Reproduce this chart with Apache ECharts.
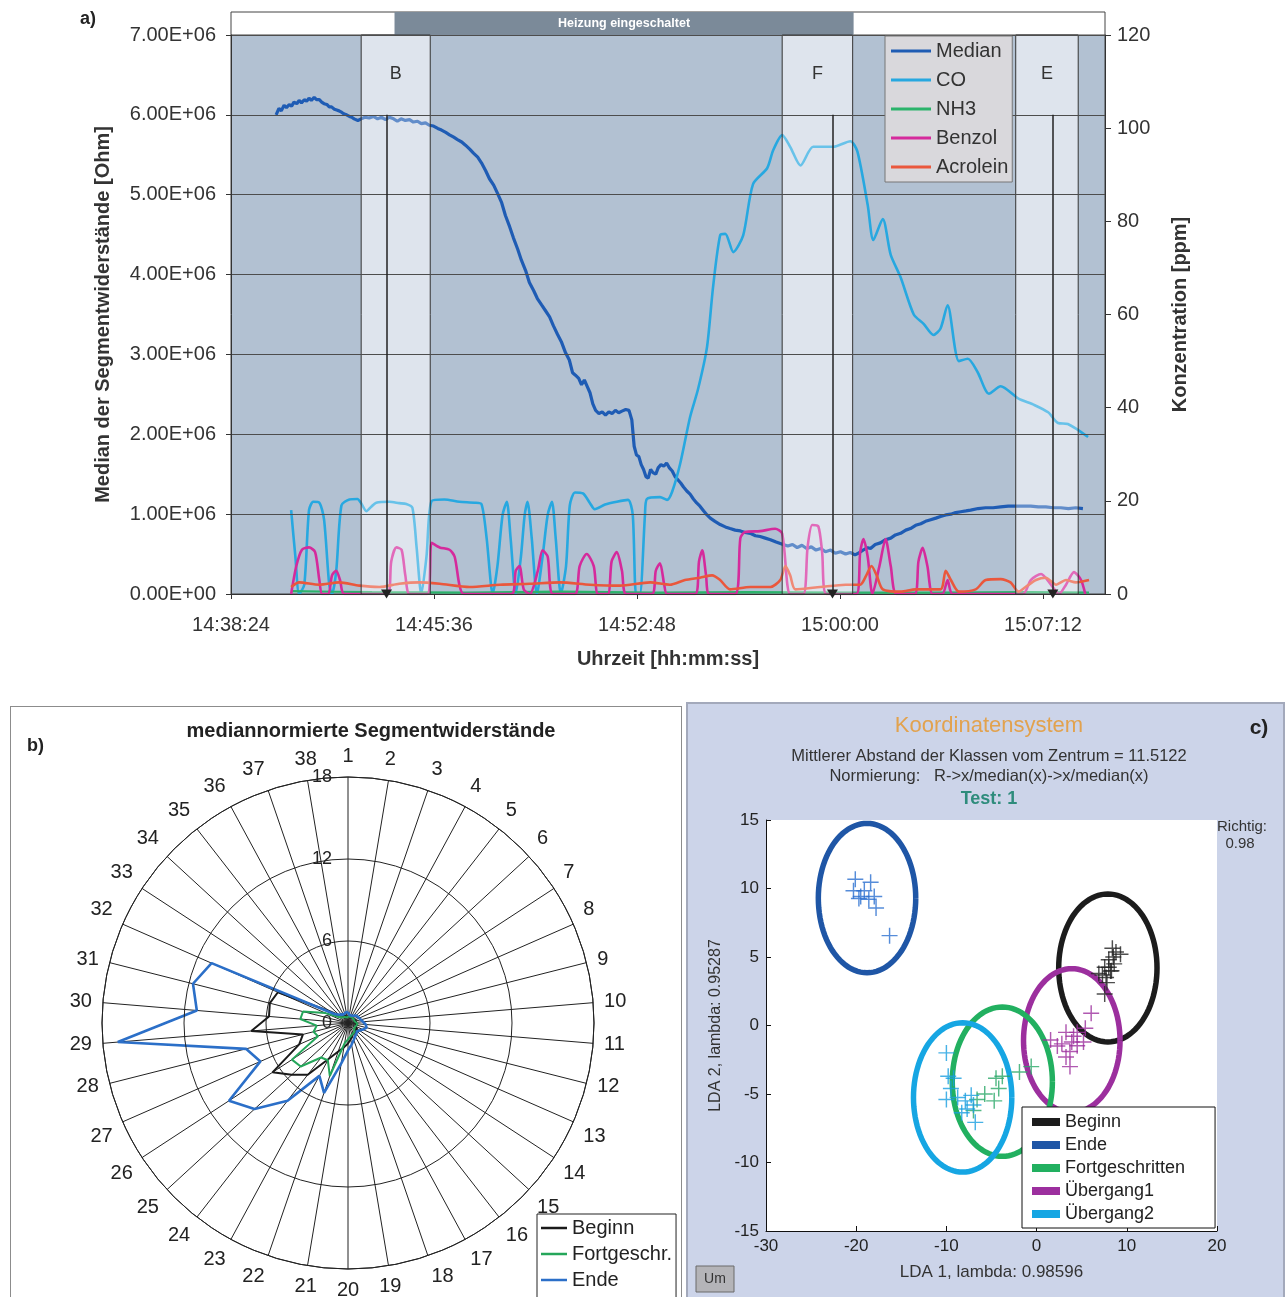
<!DOCTYPE html>
<html><head><meta charset="utf-8">
<script src="https://cdn.jsdelivr.net/npm/echarts@6/dist/echarts.min.js"></script>
<style>
html,body{margin:0;padding:0;background:#fff;}
body{width:1287px;height:1297px;overflow:hidden;position:relative;}
#a{position:absolute;left:0;top:0;width:1287px;height:690px;}
#fb{position:absolute;left:10px;top:706px;width:670px;height:640px;border:1px solid #8c8c8c;background:#fff;}
#b{position:absolute;left:10px;top:706px;width:671px;height:660px;}
#fc{position:absolute;left:686px;top:702px;width:595px;height:640px;border:2px solid #a3a9bb;background:#ccd4e9;}
#c{position:absolute;left:687px;top:703px;width:595px;height:594px;}
</style></head>
<body>
<div id="a"></div>
<div id="fb"></div><div id="b"></div>
<div id="fc"></div><div id="c"></div>
<script>
const FONT = '"Liberation Sans", Arial, Helvetica, sans-serif';

// ---------- Panel a data (time = seconds after 14:38:24) ----------
const T0 = 52704;            // 14:38:24 in seconds of day
const X_MAX = 1860;
const seriesNamesA = ['Median','CO','NH3','Benzol','Acrolein'];
const colorsA = ['#1f5cb4','#27a8e0','#2bb36b','#d52a9c','#ea573c'];
const median = [[96,6.00e6],[102,6.08e6],[107,6.05e6],[113,6.12e6],[118,6.09e6],[124,6.13e6],[129,6.11e6],[134,6.16e6],[140,6.14e6],[145,6.18e6],[150,6.15e6],[156,6.19e6],[161,6.17e6],[166,6.21e6],[171,6.18e6],[177,6.22e6],[182,6.19e6],[188,6.19e6],[193,6.16e6],[198,6.14e6],[204,6.13e6],[209,6.10e6],[214,6.10e6],[220,6.07e6],[225,6.06e6],[230,6.05e6],[236,6.03e6],[241,6.01e6],[246,6.00e6],[252,5.98e6],[257,5.97e6],[262,5.95e6],[270,5.93e6],[277,5.95e6],[285,5.97e6],[294,5.96e6],[303,5.98e6],[312,5.95e6],[320,5.97e6],[329,5.94e6],[337,5.97e6],[346,5.95e6],[354,5.92e6],[362,5.95e6],[371,5.93e6],[380,5.94e6],[388,5.91e6],[397,5.92e6],[405,5.89e6],[414,5.90e6],[422,5.87e6],[431,5.86e6],[440,5.83e6],[448,5.81e6],[457,5.78e6],[465,5.75e6],[474,5.72e6],[482,5.69e6],[491,5.66e6],[499,5.62e6],[508,5.57e6],[516,5.52e6],[525,5.47e6],[533,5.40e6],[542,5.30e6],[550,5.20e6],[559,5.12e6],[567,5.02e6],[576,4.90e6],[584,4.74e6],[593,4.60e6],[601,4.46e6],[610,4.32e6],[618,4.18e6],[627,4.05e6],[635,3.90e6],[644,3.80e6],[652,3.70e6],[661,3.62e6],[669,3.55e6],[678,3.47e6],[686,3.36e6],[695,3.25e6],[703,3.16e6],[712,3.02e6],[720,2.93e6],[727,2.77e6],[733,2.74e6],[740,2.70e6],[746,2.62e6],[752,2.68e6],[758,2.60e6],[764,2.52e6],[770,2.38e6],[776,2.30e6],[783,2.26e6],[790,2.28e6],[797,2.24e6],[804,2.28e6],[811,2.26e6],[818,2.30e6],[825,2.27e6],[832,2.29e6],[840,2.31e6],[847,2.30e6],[853,2.18e6],[858,1.85e6],[863,1.74e6],[868,1.72e6],[873,1.62e6],[878,1.56e6],[883,1.47e6],[888,1.45e6],[893,1.56e6],[898,1.52e6],[904,1.50e6],[909,1.58e6],[915,1.62e6],[921,1.60e6],[927,1.64e6],[933,1.58e6],[939,1.54e6],[945,1.47e6],[951,1.43e6],[957,1.39e6],[963,1.34e6],[970,1.29e6],[977,1.25e6],[984,1.19e6],[991,1.14e6],[998,1.10e6],[1006,1.04e6],[1013,0.99e6],[1020,0.95e6],[1030,0.91e6],[1041,0.87e6],[1052,0.84e6],[1062,0.82e6],[1073,0.80e6],[1084,0.79e6],[1094,0.77e6],[1105,0.76e6],[1116,0.73e6],[1126,0.72e6],[1137,0.70e6],[1148,0.68e6],[1160,0.65e6],[1175,0.62e6],[1185,0.60e6],[1195,0.62e6],[1205,0.58e6],[1215,0.61e6],[1225,0.57e6],[1235,0.59e6],[1245,0.55e6],[1255,0.57e6],[1265,0.53e6],[1276,0.55e6],[1286,0.51e6],[1297,0.53e6],[1308,0.50e6],[1318,0.52e6],[1328,0.49e6],[1335,0.51e6],[1345,0.55e6],[1355,0.58e6],[1361,0.57e6],[1371,0.62e6],[1382,0.64e6],[1393,0.68e6],[1404,0.70e6],[1414,0.74e6],[1425,0.76e6],[1436,0.80e6],[1446,0.82e6],[1457,0.86e6],[1468,0.88e6],[1478,0.91e6],[1489,0.93e6],[1500,0.95e6],[1510,0.97e6],[1521,0.99e6],[1532,1.00e6],[1542,1.02e6],[1553,1.03e6],[1564,1.04e6],[1574,1.05e6],[1590,1.07e6],[1606,1.08e6],[1622,1.08e6],[1638,1.09e6],[1654,1.10e6],[1670,1.10e6],[1686,1.10e6],[1702,1.10e6],[1718,1.09e6],[1734,1.09e6],[1750,1.08e6],[1766,1.08e6],[1782,1.07e6],[1798,1.08e6],[1813,1.07e6]];
const co = [[128,18],[137,8],[145,0],[156,2],[166,18],[175,19.8],[188,19.6],[198,16],[209,2],[215,0],[224,5],[235,19],[252,20.3],[269,20.4],[277,19.5],[288,17.8],[299,18.8],[309,19.6],[337,19.8],[358,19.5],[373,19.3],[386,18.5],[395,10],[405,0],[416,8],[427,20],[454,20.3],[486,19.8],[518,19.6],[533,19.3],[544,12],[557,0],[567,6],[578,17],[587,19.8],[595,12],[606,0],[617,8],[625,17],[631,19.8],[640,12],[651,0],[663,8],[674,17],[683,19.8],[691,12],[702,0],[713,6],[721,19],[732,21.8],[749,21.6],[764,19.5],[774,18.2],[796,19.2],[821,19.8],[845,20.2],[855,17],[862,0],[870,0],[881,17],[885,20.4],[913,20.8],[928,20.2],[939,22],[956,28],[977,38],[994,44],[1013,53],[1026,66],[1041,77],[1052,77.3],[1069,73.4],[1090,77],[1111,88],[1141,91.4],[1154,95.3],[1173,98.5],[1190,96],[1212,92],[1239,96],[1282,96],[1318,97.2],[1333,95],[1355,83.5],[1367,76],[1387,80.5],[1404,72.8],[1425,68],[1453,60],[1474,58],[1495,55.6],[1510,57],[1525,62],[1549,50],[1568,50.5],[1589,47.6],[1613,43],[1638,44.6],[1675,42],[1709,40.6],[1739,39],[1760,36.7],[1781,36.5],[1824,33.7]];
const nh3 = [[128,0.6],[300,0.4],[500,0.3],[700,0.5],[900,0.3],[1100,0.4],[1300,0.3],[1500,0.3],[1700,0.4],[1826,0.3]];
const benzol = [[128,0],[139,6],[151,9.5],[166,10],[179,9],[188,3],[194,0],[207,0],[215,4],[224,5],[232,3],[241,0],[333,0],[341,7],[352,10],[363,9.5],[371,4],[380,0],[418,0],[427,11],[444,10],[465,9.5],[476,8],[486,2],[495,0],[597,0],[606,5],[614,6],[623,1],[636,0],[653,5],[663,9.4],[674,8],[685,0],[732,0],[742,6],[757,8.6],[772,6],[781,0],[802,0],[810,7],[821,9],[832,5],[841,0],[896,0],[904,5],[913,6.6],[922,2],[928,0],[988,0],[996,7],[1003,9.4],[1011,4],[1018,0],[1073,0],[1084,12],[1094,13.3],[1126,13.5],[1158,14],[1173,13],[1184,2],[1190,0],[1218,0],[1227,10],[1237,14.8],[1250,14.5],[1258,9],[1267,0],[1331,0],[1339,9],[1346,11.8],[1355,8],[1365,0],[1380,6],[1393,11.8],[1404,6],[1416,0],[1455,0],[1463,7],[1472,9.9],[1482,6],[1493,0],[1514,0],[1525,3],[1536,0],[1685,0],[1702,3],[1724,4.3],[1745,2],[1762,0],[1777,2],[1794,4.7],[1809,3],[1818,0]];
const acrolein = [[128,1.5],[145,2.5],[188,2],[230,2.5],[273,1.8],[316,1.5],[358,2.2],[401,2.5],[444,2.2],[508,1.5],[572,2],[636,2.2],[700,2.5],[764,2],[828,1.8],[892,2.5],[934,2],[966,3],[998,3.5],[1024,4],[1041,3],[1062,1],[1105,1.5],[1148,1.5],[1169,3],[1180,6],[1190,4],[1201,1],[1254,1.5],[1308,2],[1339,2],[1352,4],[1363,6],[1374,4],[1387,1],[1425,0.5],[1457,1],[1510,1],[1521,5],[1532,3],[1549,0.5],[1585,1],[1606,3],[1638,3.2],[1659,2.5],[1676,0.5],[1691,1.5],[1713,3],[1734,3.5],[1756,2],[1777,3],[1798,2.5],[1826,3]];
const bandLabels = ['B','F','E'];
const bandStart = [277,1173,1670];
const bandEnd = [424,1323,1803];
const sampleTimes = [331,1280,1749];
const heaterOn = 348, heaterOff = 1325;

// ---------- Panel b data (segments 1..38) ----------
const segLabels = ['1','2','3','4','5','6','7','8','9','10','11','12','13','14','15','16','17','18','19','20','21','22','23','24','25','26','27','28','29','30','31','32','33','34','35','36','37','38'];
const beginnVals = [0.5,0.4,0.5,0.4,0.5,0.5,0.6,0.5,0.6,0.5,0.6,0.7,0.6,0.8,0.7,0.9,0.8,1.0,1.2,1.5,1.8,2.2,3.0,4.8,5.6,6.6,3.9,3.4,7.1,5.8,5.9,5.6,1.5,0.8,0.7,0.6,0.5,0.5];
const fortVals = [0.5,0.4,0.4,0.5,0.4,0.5,0.5,0.6,0.5,0.6,0.7,0.6,0.6,0.7,0.6,0.8,0.8,0.9,1.0,1.2,1.5,4.1,3.1,3.2,4.7,4.9,2.4,2.6,2.3,3.5,3.4,1.8,0.8,0.6,0.5,0.5,0.4,0.4];
const endeVals = [0.8,0.6,0.7,0.6,0.7,0.8,0.8,0.9,1.0,1.1,1.3,1.4,1.2,1.0,0.9,1.0,1.1,1.3,1.6,2.0,3.0,5.4,4.4,7.2,9.3,10.4,7.0,7.7,16.9,11.1,11.7,10.9,1.2,0.9,0.8,0.7,0.7,0.8];

// ---------- Panel c data ----------
const classesC = ['Beginn','Ende','Fortgeschritten','Übergang1','Übergang2'];
const colorsC = ['#1c1c1c','#1f56a6','#22b060','#9c2f9e','#16a6e3'];
const ptColorsC = ['#222222','#2a6fd0','#2aa868','#9c2f9e','#1a9fe0'];
const ellCenterX = [7.9,-18.8,-3.8,3.9,-8.2];
const ellCenterY = [4.2,9.3,-4.1,-1.1,-5.25];
const ellRadX = [5.45,5.4,5.55,5.35,5.45];
const ellRadY = [5.4,5.45,5.45,5.25,5.45];
const ptsBeginn = [[8.4,5.64],[8.0,4.8],[8.6,4.5],[7.55,4.25],[8.2,3.97],[7.3,3.69],[8.8,5.36],[7.8,3.13],[7.55,2.3],[6.9,3.8],[9.3,5.2],[8.0,4.25],[8.3,4.0],[7.7,3.5],[8.5,5.0]];
const ptsEnde = [[-20.1,10.67],[-20.3,9.83],[-18.4,10.45],[-19.5,9.41],[-18,9.41],[-18.6,9.22],[-17.8,8.58],[-16.3,6.56],[-19.1,9.83],[-19.7,9.27]];
const ptsFort = [[-3.8,-3.7],[-4.5,-3.85],[-1.9,-3.4],[-0.6,-3.0],[-4.7,-5.5],[-5.75,-5.0],[-6.6,-5.4],[-7.0,-6.2],[-4.2,-4.6]];
const ptsUeb1 = [[3.26,-0.5],[4.1,-0.78],[2.8,-1.34],[4.5,-1.48],[3.7,-1.9],[5.2,-1.2],[1.55,-1.06],[3.7,-3.0],[6.05,0.9],[5.4,-0.2],[3.26,-2.3],[4.5,-0.5],[3.9,-1.2],[2.3,-1.5]];
const ptsUeb2 = [[-10.0,-2.0],[-9.8,-3.7],[-9.2,-3.85],[-10,-5.4],[-8.75,-5.25],[-7.9,-5.5],[-7.7,-6.1],[-8.3,-6.37],[-7.0,-5.8],[-6.8,-7.07],[-7.25,-5.1],[-9.5,-4.6]];

// ---------- helpers ----------
function fmtTime(s){const t=T0+s;const h=Math.floor(t/3600),m=Math.floor((t%3600)/60),sec=t%60;return h+':'+String(m).padStart(2,'0')+':'+String(sec).padStart(2,'0');}
function fmtExp(v){const p=Number(v).toExponential(2).split('e');const n=parseInt(p[1],10);return p[0]+'E'+(n<0?'-':'+')+String(Math.abs(n)).padStart(2,'0');}

// ---------- Chart a ----------
const chartA = echarts.init(document.getElementById('a'), null, {renderer:'canvas'});
const dataA = [median, co, nh3, benzol, acrolein];
const widthsA = [3.2, 2.6, 2.2, 2.6, 2.6];
const bandPairs = bandLabels.map((b,i)=>[{name:b, xAxis:bandStart[i]},{xAxis:bandEnd[i]}]);
chartA.setOption({
  animation:false,
  textStyle:{fontFamily:FONT},
  graphic:[{type:'text', left:80, top:10, style:{text:'a)', font:'bold 18px '+FONT, fill:'#222'}}],
  grid:[
    {left:231, top:35, width:874, height:559, show:true, backgroundColor:'#b2c1d2', borderColor:'#444', borderWidth:1},
    {left:231, top:12, width:874, height:23, show:true, backgroundColor:'#fff', borderColor:'#444', borderWidth:1}
  ],
  xAxis:[
    {type:'value', gridIndex:0, min:0, max:X_MAX, interval:432, z:4,
     axisLine:{lineStyle:{color:'#333'}}, axisTick:{show:true, length:5, lineStyle:{color:'#333'}},
     splitLine:{show:false},
     axisLabel:{formatter:fmtTime, showMaxLabel:false, fontSize:20, color:'#333', margin:21},
     name:'Uhrzeit [hh:mm:ss]', nameLocation:'middle', nameGap:55,
     nameTextStyle:{fontSize:20, fontWeight:'bold', color:'#333'}},
    {type:'value', gridIndex:1, min:0, max:X_MAX, show:false}
  ],
  yAxis:[
    {type:'value', gridIndex:0, min:0, max:7e6, interval:1e6, z:4, position:'left',
     axisLine:{show:true, lineStyle:{color:'#333'}}, axisTick:{show:true, length:5, lineStyle:{color:'#333'}},
     splitLine:{show:true, lineStyle:{color:'#4d4d4d', width:1}},
     axisLabel:{formatter:fmtExp, fontSize:20, color:'#333', margin:15},
     name:'Median der Segmentwiderstände [Ohm]', nameLocation:'middle', nameGap:118, nameRotate:90,
     nameTextStyle:{fontSize:20, fontWeight:'bold', color:'#333'}},
    {type:'value', gridIndex:0, min:0, max:120, interval:20, z:4, position:'right',
     axisLine:{show:true, lineStyle:{color:'#333'}}, axisTick:{show:true, length:6, lineStyle:{color:'#333'}},
     splitLine:{show:false},
     axisLabel:{fontSize:20, color:'#333', margin:12},
     name:'Konzentration [ppm]', nameLocation:'middle', nameGap:65, nameRotate:90,
     nameTextStyle:{fontSize:20, fontWeight:'bold', color:'#333'}},
    {type:'value', gridIndex:1, min:0, max:1, show:false}
  ],
  legend:{data:seriesNamesA, orient:'vertical', left:885, top:36, z:10,
    icon:'rect', itemWidth:40, itemHeight:3, itemGap:9,
    backgroundColor:'#d9d8dc', borderColor:'#777', borderWidth:1, borderRadius:0, padding:[5,4,5,6],
    textStyle:{fontSize:20, color:'#333'}},
  series:[
    {name:'_heat', type:'line', xAxisIndex:1, yAxisIndex:2, data:[], silent:true,
     markArea:{silent:true, itemStyle:{color:'#7b8a99'},
       label:{show:true, position:'inside', color:'#fff', fontWeight:'bold', fontSize:12.5},
       data:[[{name:'Heizung eingeschaltet', xAxis:heaterOn},{xAxis:heaterOff}]]}},
    {name:'_bandsBase', type:'line', xAxisIndex:0, yAxisIndex:0, data:[], z:1, silent:true,
     markArea:{silent:true, z:1, itemStyle:{color:'#d0d8e5'}, label:{show:false}, data:bandPairs}}
  ].concat(seriesNamesA.map((n,i)=>({
    name:n, type:'line', xAxisIndex:0, yAxisIndex:i===0?0:1, data:dataA[i], showSymbol:false,
    smooth:i===0?false:0.25, z:2,
    lineStyle:{width:widthsA[i], color:colorsA[i]}, itemStyle:{color:colorsA[i]}
  }))).concat([
    {name:'_bands', type:'line', xAxisIndex:0, yAxisIndex:0, data:[], z:3, silent:true,
     markArea:{silent:true, z:3, itemStyle:{color:'rgba(255,255,255,0.3)', borderColor:'#333', borderWidth:1},
       label:{show:true, position:'insideTop', distance:31, fontSize:18, color:'#333'},
       data:bandPairs},
     markLine:{silent:true, z:5, symbol:['none','triangle'], symbolSize:[11,9],
       lineStyle:{color:'#222', width:1.5, type:'solid'}, label:{show:false},
       data:sampleTimes.map(t=>[{coord:[t,6e6]},{coord:[t,0]}])}}
  ])
});

// ---------- Chart b ----------
const chartB = echarts.init(document.getElementById('b'));
function toPolar(vals){const d=vals.map((v,i)=>[v,i]);d.push([vals[0],38]);return d;}
const namesB = ['Beginn','Fortgeschr.','Ende'];
const colorsB = ['#1a1a1a','#25a65a','#2b6fc8'];
const valsB = [beginnVals, fortVals, endeVals];
chartB.setOption({
  animation:false,
  textStyle:{fontFamily:FONT},
  graphic:[
    {type:'text', x:361, y:25, style:{text:'mediannormierte Segmentwiderstände', font:'bold 20px '+FONT, fill:'#222', align:'center', verticalAlign:'middle'}},
    {type:'text', x:17, y:40, style:{text:'b)', font:'bold 18px '+FONT, fill:'#222', verticalAlign:'middle'}}
  ],
  polar:{center:[338,317], radius:246},
  angleAxis:{type:'value', min:0, max:38, interval:1, startAngle:90, clockwise:true,
    axisLine:{show:true, lineStyle:{color:'#222', width:1}}, axisTick:{show:false},
    splitLine:{show:true, lineStyle:{color:'#222', width:1}},
    axisLabel:{formatter:v=>(v>=38?'':segLabels[v]), fontSize:20, color:'#222', margin:11}},
  radiusAxis:{min:0, max:18, interval:6, z:5,
    axisLine:{show:false}, axisTick:{show:false},
    splitLine:{show:true, lineStyle:{color:'#222', width:1}},
    axisLabel:{fontSize:18, color:'#222', margin:16}},
  legend:{data:namesB, orient:'vertical', left:527, top:508, icon:'rect', itemWidth:26, itemHeight:2.5, itemGap:6,
    backgroundColor:'#fff', borderColor:'#222', borderWidth:1, borderRadius:0, padding:[4,4,14,4],
    textStyle:{fontSize:20, color:'#222'}},
  series:namesB.map((n,i)=>({name:n, type:'line', coordinateSystem:'polar', data:toPolar(valsB[i]),
    showSymbol:false, z:3, lineStyle:{color:colorsB[i], width:i===2?2.6:2}, itemStyle:{color:colorsB[i]}}))
});

// ---------- Chart c ----------
const chartC = echarts.init(document.getElementById('c'));
const ptsC = [ptsBeginn, ptsEnde, ptsFort, ptsUeb1, ptsUeb2];
const plusPath = 'path://M-1,-0.09H1V0.09H-1Z M-0.09,-1H0.09V1H-0.09Z';
const drawOrder = [1,0,3,2,4];
const ellSeries = drawOrder.map(i=>({
  name:classesC[i], type:'custom', coordinateSystem:'cartesian2d', z:2,
  data:[[ellCenterX[i], ellCenterY[i], ellRadX[i], ellRadY[i]]],
  encode:{x:0, y:1}, itemStyle:{color:colorsC[i]},
  renderItem:function(params, api){
    const cx=api.value(0), cy=api.value(1), rx=api.value(2), ry=api.value(3);
    const pts=[];
    for(let j=0;j<=96;j++){const a=j/96*Math.PI*2;pts.push(api.coord([cx+rx*Math.cos(a), cy+ry*Math.sin(a)]));}
    return {type:'polyline', shape:{points:pts}, style:{stroke:colorsC[i], lineWidth:5.5, fill:null}};
  }
}));
const ptSeries = drawOrder.map(i=>({
  name:classesC[i]+' Daten', type:'scatter', z:3, data:ptsC[i], symbol:plusPath, symbolSize:16,
  itemStyle:{color:ptColorsC[i]}
}));
chartC.setOption({
  animation:false,
  textStyle:{fontFamily:FONT},
  graphic:[
    {type:'text', x:302, y:23, style:{text:'Koordinatensystem', font:'22px '+FONT, fill:'#e2a24e', align:'center', verticalAlign:'middle'}},
    {type:'text', x:572, y:25, style:{text:'c)', font:'bold 21px '+FONT, fill:'#222', align:'center', verticalAlign:'middle'}},
    {type:'text', x:302, y:53, style:{text:'Mittlerer Abstand der Klassen vom Zentrum = 11.5122', font:'16.5px '+FONT, fill:'#333', align:'center', verticalAlign:'middle'}},
    {type:'text', x:302, y:73, style:{text:'Normierung:   R->x/median(x)->x/median(x)', font:'16.5px '+FONT, fill:'#333', align:'center', verticalAlign:'middle'}},
    {type:'text', x:302, y:96, style:{text:'Test: 1', font:'bold 18px '+FONT, fill:'#2e8c7c', align:'center', verticalAlign:'middle'}},
    {type:'text', x:555, y:124, z:10, style:{text:'Richtig:', font:'15px '+FONT, fill:'#333', align:'center', verticalAlign:'middle'}},
    {type:'text', x:553, y:141, z:10, style:{text:'0.98', font:'15px '+FONT, fill:'#333', align:'center', verticalAlign:'middle'}},
    {type:'rect', x:9, y:563, z:10, shape:{width:38, height:26}, style:{fill:'#b4b4b8', stroke:'#6a6a6a', lineWidth:1}},
    {type:'text', x:28, y:576, z:11, style:{text:'Um', font:'14px '+FONT, fill:'#333', align:'center', verticalAlign:'middle'}}
  ],
  grid:{left:79, top:117, width:451, height:411, show:true, backgroundColor:'#fff', borderWidth:0},
  xAxis:{type:'value', min:-30, max:20, interval:10,
    axisLine:{onZero:false, lineStyle:{color:'#111'}}, axisTick:{show:true, inside:true, length:5, lineStyle:{color:'#111'}},
    splitLine:{show:false}, axisLabel:{fontSize:17, color:'#222', margin:7},
    name:'LDA 1, lambda: 0.98596', nameLocation:'middle', nameGap:33, nameTextStyle:{fontSize:17, color:'#333'}},
  yAxis:{type:'value', min:-15, max:15, interval:5,
    axisLine:{show:true, onZero:false, lineStyle:{color:'#111'}}, axisTick:{show:true, inside:true, length:5, lineStyle:{color:'#111'}},
    splitLine:{show:false}, axisLabel:{fontSize:17, color:'#222', margin:7},
    name:'LDA 2, lambda: 0.95287', nameLocation:'middle', nameGap:42, nameRotate:90, nameTextStyle:{fontSize:16, color:'#333'}},
  legend:{data:classesC.map((c,i)=>({name:c, itemStyle:{color:colorsC[i]}})), orient:'vertical', left:335, top:404, z:10,
    icon:'rect', itemWidth:28, itemHeight:8, itemGap:5,
    backgroundColor:'#fff', borderColor:'#111', borderWidth:1, borderRadius:0, padding:[6,30,5,10],
    textStyle:{fontSize:18, color:'#222'}},
  series: ellSeries.concat(ptSeries)
});
</script>
</body></html>
